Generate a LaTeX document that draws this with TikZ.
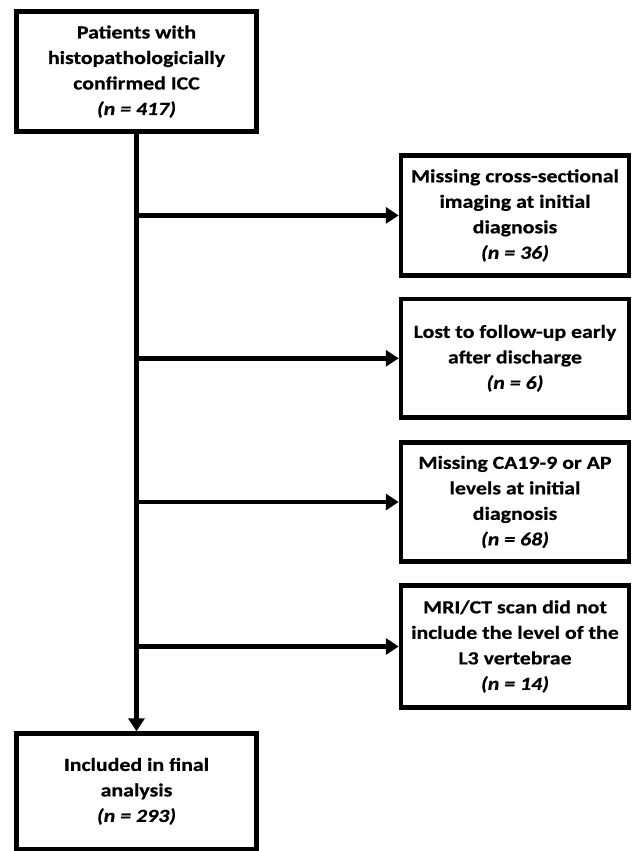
\documentclass[tikz,border=0pt]{standalone}
\usepackage{fontspec}
\setmainfont{Carlito}[FakeStretch=1.18, BoldFeatures={FakeBold=0.6}, BoldItalicFeatures={FakeBold=0.6}]
\usetikzlibrary{arrows.meta}
\tikzset{
  boxnode/.style={draw=black, line width=4.5pt, fill=white, rectangle, align=center,
    inner sep=0pt, font=\fontsize{18.5}{25.5}\selectfont\bfseries},
  leftbox/.style={boxnode, minimum width=240pt, minimum height=120pt},
  rightbox/.style={boxnode, minimum width=228pt, minimum height=120pt},
  arr/.style={line width=4.5pt, -{Triangle[length=13pt,width=16pt]}}
}
\begin{document}
\begin{tikzpicture}[x=1pt,y=-1pt]
\useasboundingbox (0,0) rectangle (632,851);
\node[leftbox] (top) at (136.5,71.6) {Patients with\\histopathologicially\\confirmed ICC\\\textit{(n = 417)}};
\node[rightbox] (b1) at (515,215.4) {Missing cross-sectional\\imaging at initial\\diagnosis\\\textit{(n = 36)}};
\node[rightbox, minimum height=118.5pt] (b2) at (515,358.3) {Lost to follow-up early\\after discharge\\\textit{(n = 6)}};
\node[rightbox, minimum height=119pt] (b3) at (515,502) {Missing CA19-9 or AP\\levels at initial\\diagnosis\\\textit{(n = 68)}};
\node[rightbox, minimum height=122pt] (b4) at (515,646.5) {MRI/CT scan did not\\include the level of the\\L3 vertebrae\\\textit{(n = 14)}};
\node[leftbox, minimum height=115.5pt] (bot) at (136.5,791.3) {Included in final\\analysis\\\textit{(n = 293)}};
\draw[arr] (top.south) -- (bot.north);
\draw[arr] (top.south |- b1.west) -- (b1.west);
\draw[arr] (top.south |- b2.west) -- (b2.west);
\draw[arr] (top.south |- b3.west) -- (b3.west);
\draw[arr] (top.south |- b4.west) -- (b4.west);
\end{tikzpicture}
\end{document}
